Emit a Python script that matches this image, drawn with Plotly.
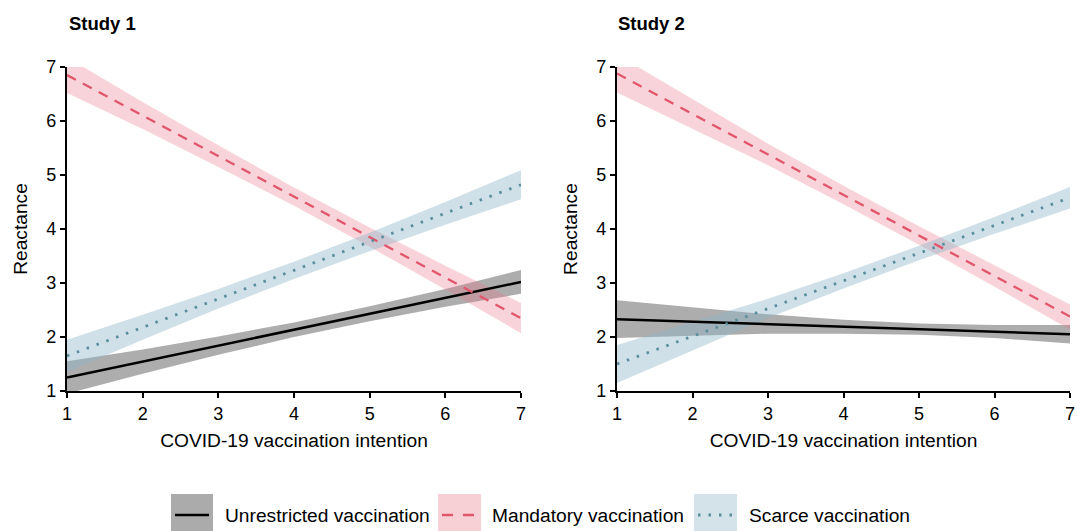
import plotly.graph_objects as go

# ---------------- data ----------------
x_vals = [1, 2, 3, 4, 5, 6, 7]

series_names = ["Unrestricted vaccination", "Mandatory vaccination", "Scarce vaccination"]

# Study 1
s1_unres_fit = [1.25, 1.545, 1.84, 2.135, 2.43, 2.725, 3.02]
s1_unres_lo = [0.95, 1.32, 1.67, 2.00, 2.29, 2.56, 2.80]
s1_unres_hi = [1.55, 1.77, 2.01, 2.27, 2.57, 2.89, 3.24]

s1_mand_fit = [6.85, 6.10, 5.35, 4.60, 3.85, 3.10, 2.35]
s1_mand_lo = [6.52, 5.85, 5.15, 4.43, 3.67, 2.88, 2.07]
s1_mand_hi = [7.18, 6.35, 5.55, 4.77, 4.03, 3.32, 2.63]

s1_scar_fit = [1.65, 2.18, 2.71, 3.235, 3.76, 4.29, 4.82]
s1_scar_lo = [1.35, 1.95, 2.53, 3.075, 3.59, 4.08, 4.55]
s1_scar_hi = [1.95, 2.41, 2.89, 3.395, 3.93, 4.50, 5.09]

# Study 2
s2_unres_fit = [2.33, 2.283, 2.237, 2.19, 2.143, 2.097, 2.05]
s2_unres_lo = [1.98, 2.02, 2.06, 2.06, 2.04, 1.98, 1.88]
s2_unres_hi = [2.68, 2.55, 2.42, 2.32, 2.25, 2.22, 2.22]

s2_mand_fit = [6.88, 6.13, 5.38, 4.63, 3.88, 3.13, 2.38]
s2_mand_lo = [6.53, 5.86, 5.18, 4.46, 3.71, 2.93, 2.14]
s2_mand_hi = [7.23, 6.40, 5.58, 4.80, 4.05, 3.33, 2.60]

s2_scar_fit = [1.50, 2.013, 2.527, 3.04, 3.553, 4.067, 4.58]
s2_scar_lo = [1.15, 1.75, 2.35, 2.90, 3.42, 3.91, 4.38]
s2_scar_hi = [1.85, 2.28, 2.71, 3.18, 3.69, 4.22, 4.78]

x_ticks = [1, 2, 3, 4, 5, 6, 7]
y_ticks = [1, 2, 3, 4, 5, 6, 7]

# ---------------- styles ----------------
line_colors = ["#000000", "#E2566B", "#5A8E9E"]
band_colors = ["rgba(60,60,60,0.42)", "rgba(234,120,140,0.32)", "rgba(140,180,200,0.42)"]
dashes = ["solid", "10px,8px", "2.5px,8px"]
line_widths = [2.5, 2.3, 2.8]

FONT = "Liberation Sans, Arial, Helvetica, sans-serif"
TXT = 19.2
TICK = 18

fig = go.Figure()

studies = [
    ("x", "y", [(s1_unres_fit, s1_unres_lo, s1_unres_hi),
                (s1_mand_fit, s1_mand_lo, s1_mand_hi),
                (s1_scar_fit, s1_scar_lo, s1_scar_hi)]),
    ("x2", "y2", [(s2_unres_fit, s2_unres_lo, s2_unres_hi),
                  (s2_mand_fit, s2_mand_lo, s2_mand_hi),
                  (s2_scar_fit, s2_scar_lo, s2_scar_hi)]),
]

for xa, ya, groups in studies:
    for i, (fit, lo, hi) in enumerate(groups):
        fig.add_trace(go.Scatter(x=x_vals, y=lo, mode="lines", line=dict(width=0),
                                 xaxis=xa, yaxis=ya, showlegend=False, hoverinfo="skip"))
        fig.add_trace(go.Scatter(x=x_vals, y=hi, mode="lines", line=dict(width=0),
                                 fill="tonexty", fillcolor=band_colors[i],
                                 xaxis=xa, yaxis=ya, showlegend=False, hoverinfo="skip"))
    for i, (fit, lo, hi) in enumerate(groups):
        fig.add_trace(go.Scatter(x=x_vals, y=fit, mode="lines", name=series_names[i],
                                 line=dict(color=line_colors[i], width=line_widths[i], dash=dashes[i]),
                                 xaxis=xa, yaxis=ya, showlegend=False))

axis_common = dict(
    range=[1, 7], showgrid=False, zeroline=False, showline=True, linecolor="black",
    linewidth=2.2, ticks="outside", ticklen=5, tickwidth=1.8, tickcolor="black",
    tickfont=dict(family=FONT, size=TICK, color="black"), mirror=False,
    ticklabeloverflow="allow",
)

W, H = 1077, 531
ml, mr, mt, mb = 67, 7, 67, 140
pw = W - ml - mr
ph = H - mt - mb
left_dom = [0, (521 - ml) / pw]
right_dom = [(617 - ml) / pw, 1]

xtitle = dict(text="COVID-19 vaccination intention", standoff=11, font=dict(family=FONT, size=TXT))
ytitle = dict(text="Reactance", standoff=14, font=dict(family=FONT, size=TXT))

fig.update_layout(
    width=W, height=H,
    margin=dict(l=ml, r=mr, t=mt, b=mb, autoexpand=False),
    paper_bgcolor="white", plot_bgcolor="white",
    font=dict(family=FONT, size=TXT, color="black"),
    showlegend=False,
    xaxis=dict(domain=left_dom, anchor="y", tickvals=x_ticks, title=xtitle, **axis_common),
    yaxis=dict(domain=[0, 1], anchor="x", tickvals=y_ticks, title=ytitle, **axis_common),
    xaxis2=dict(domain=right_dom, anchor="y2", tickvals=x_ticks, title=xtitle, **axis_common),
    yaxis2=dict(domain=[0, 1], anchor="x2", tickvals=y_ticks, title=ytitle, **axis_common),
)


def px_x(p):
    return (p - ml) / pw


def px_y(p):
    return 1 - (p - mt) / ph


# panel titles
for label, xp in (("Study 1", 67), ("Study 2", 616)):
    fig.add_annotation(text="<b>" + label + "</b>", xref="paper", yref="paper", x=px_x(xp), y=px_y(23),
                       xanchor="left", yanchor="middle", showarrow=False,
                       font=dict(family=FONT, size=18.5, color="black"))

# manual legend
legend_boxes = [(171, 213), (438, 481), (694, 737)]
legend_text_x = [223, 490, 747]
legend_box_fill = ["#ABABAB", "#F7D0D6", "#D3E3E9"]
legend_dash = ["solid", "11px,10px", "2.5px,8px"]
ly = 515
for i in range(3):
    x0, x1 = legend_boxes[i]
    fig.add_shape(type="rect", xref="paper", yref="paper",
                  x0=px_x(x0), x1=px_x(x1), y0=px_y(532), y1=px_y(494),
                  fillcolor=legend_box_fill[i], line=dict(width=0), layer="above")
    fig.add_shape(type="line", xref="paper", yref="paper",
                  x0=px_x(x0 + 4), x1=px_x(x1 - 4), y0=px_y(ly), y1=px_y(ly),
                  line=dict(color=line_colors[i], width=line_widths[i], dash=legend_dash[i]),
                  layer="above")
    fig.add_annotation(text=series_names[i], xref="paper", yref="paper",
                       x=px_x(legend_text_x[i]), y=px_y(ly), xanchor="left", yanchor="middle",
                       showarrow=False, font=dict(family=FONT, size=TXT, color="black"))

fig.write_html("out.html", config={"displayModeBar": False},
               post_script="document.body.style.margin='0';document.body.style.padding='0';")
